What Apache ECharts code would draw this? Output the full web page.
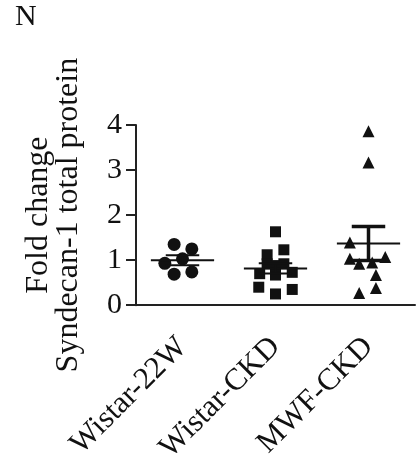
<!DOCTYPE html>
<html>
<head>
<meta charset="utf-8">
<script src="https://cdn.jsdelivr.net/npm/echarts@6/dist/echarts.min.js"></script>
<style>
html,body{margin:0;padding:0;background:#fff;}
#c{width:420px;height:466px;}
</style>
</head>
<body>
<div id="c"></div>
<script>
var categories = ['Wistar-22W', 'Wistar-CKD', 'MWF-CKD'];
var wistar22W = [1.35, 1.25, 0.93, 1.03, 0.69, 0.74];
var wistar22WJitter = [-0.09, 0.10, -0.19, 0.00, -0.09, 0.10];
var wistarCKD = [1.63, 1.23, 1.12, 0.70, 0.67, 0.73, 0.92, 0.92, 0.88, 0.40, 0.25, 0.35];
var wistarCKDJitter = [0.00, 0.09, -0.09, -0.17, 0.00, 0.18, -0.09, 0.09, 0.00, -0.18, 0.00, 0.18];
var mwfCKD = [3.86, 3.17, 1.39, 1.03, 1.07, 0.92, 0.95, 0.67, 0.38, 0.27];
var mwfCKDJitter = [0.00, 0.00, -0.20, -0.20, 0.18, -0.10, 0.04, 0.08, 0.08, -0.10];
var yTicks = [0, 1, 2, 3, 4];
var panelLabel = 'N';
var yTitle = 'Fold change\nSyndecan-1 total protein';

var FONT = 'Liberation Serif';
var groups = [
  {vals: wistar22W, jit: wistar22WJitter, symbol: 'circle', size: 13},
  {vals: wistarCKD, jit: wistarCKDJitter, symbol: 'rect', size: 11},
  {vals: mwfCKD, jit: mwfCKDJitter, symbol: 'triangle', size: 12}
];
function stats(a){
  var n=a.length, m=a.reduce(function(s,v){return s+v;},0)/n;
  var sd=Math.sqrt(a.reduce(function(s,v){return s+(v-m)*(v-m);},0)/(n-1));
  return [m, sd/Math.sqrt(n)];
}
var series = [];
var statData = [];
groups.forEach(function(g, i){
  series.push({
    type:'scatter', xAxisIndex:1, yAxisIndex:0,
    symbol:g.symbol, symbolSize:g.size,
    itemStyle:{color:'#111', opacity:1},
    data:g.vals.map(function(v,k){return [i+g.jit[k], v];}),
    z:3
  });
  var s = stats(g.vals);
  statData.push([i, s[0], s[1]]);
});
series.push({
  type:'custom', xAxisIndex:1, yAxisIndex:0, z:4,
  data: statData,
  renderItem: function(params, api){
    var i=api.value(0), m=api.value(1), se=api.value(2);
    var a=api.coord([i-0.34, m]), b=api.coord([i+0.34, m]);
    var top=api.coord([i, m+se]), bot=api.coord([i, m-se]);
    var c1=api.coord([i-0.18, m+se]), c2=api.coord([i+0.18, m+se]);
    var d1=api.coord([i-0.18, m-se]), d2=api.coord([i+0.18, m-se]);
    var lw = params.dataIndex===2 ? 3.5 : 2;
    var st={stroke:'#111', lineWidth:2};
    var st2={stroke:'#111', lineWidth:lw};
    return {type:'group', children:[
      {type:'line', shape:{x1:a[0],y1:a[1],x2:b[0],y2:b[1]}, style:st},
      {type:'line', shape:{x1:top[0],y1:top[1],x2:bot[0],y2:bot[1]}, style:st2},
      {type:'line', shape:{x1:c1[0],y1:c1[1],x2:c2[0],y2:c2[1]}, style:st2},
      {type:'line', shape:{x1:d1[0],y1:d1[1],x2:d2[0],y2:d2[1]}, style:st2}
    ]};
  }
});

var chart = echarts.init(document.getElementById('c'));
chart.setOption({
  animation:false,
  backgroundColor:'#fff',
  textStyle:{fontFamily:FONT},
  graphic:[{type:'text', left:15, top:2, style:{text:panelLabel, fontFamily:FONT, fontSize:30, fill:'#111'}}],
  grid:{left:136, right:5, top:125, bottom:157, containLabel:false},
  xAxis:[{
    type:'category', data:categories,
    axisLine:{lineStyle:{color:'#222', width:2}},
    axisTick:{alignWithLabel:true, length:10, lineStyle:{color:'#222', width:2}},
    axisLabel:{rotate:45, margin:37, color:'#111', fontFamily:FONT, fontSize:31, interval:0}
  },{
    type:'value', min:-0.5, max:2.5, show:false
  }],
  yAxis:[{
    type:'value', min:0, max:4, interval:1,
    name:yTitle, nameLocation:'middle', nameRotate:90, nameGap:52,
    nameTextStyle:{fontFamily:FONT, fontSize:32, color:'#111', lineHeight:30},
    axisLine:{show:true, onZero:false, lineStyle:{color:'#222', width:2}},
    axisTick:{show:true, length:10, lineStyle:{color:'#222', width:2}},
    axisLabel:{margin:14, color:'#111', fontFamily:FONT, fontSize:30,
      formatter:function(v){return yTicks.indexOf(v)>=0 ? String(v) : '';}},
    splitLine:{show:false}
  }],
  series:series
});
</script>
</body>
</html>
